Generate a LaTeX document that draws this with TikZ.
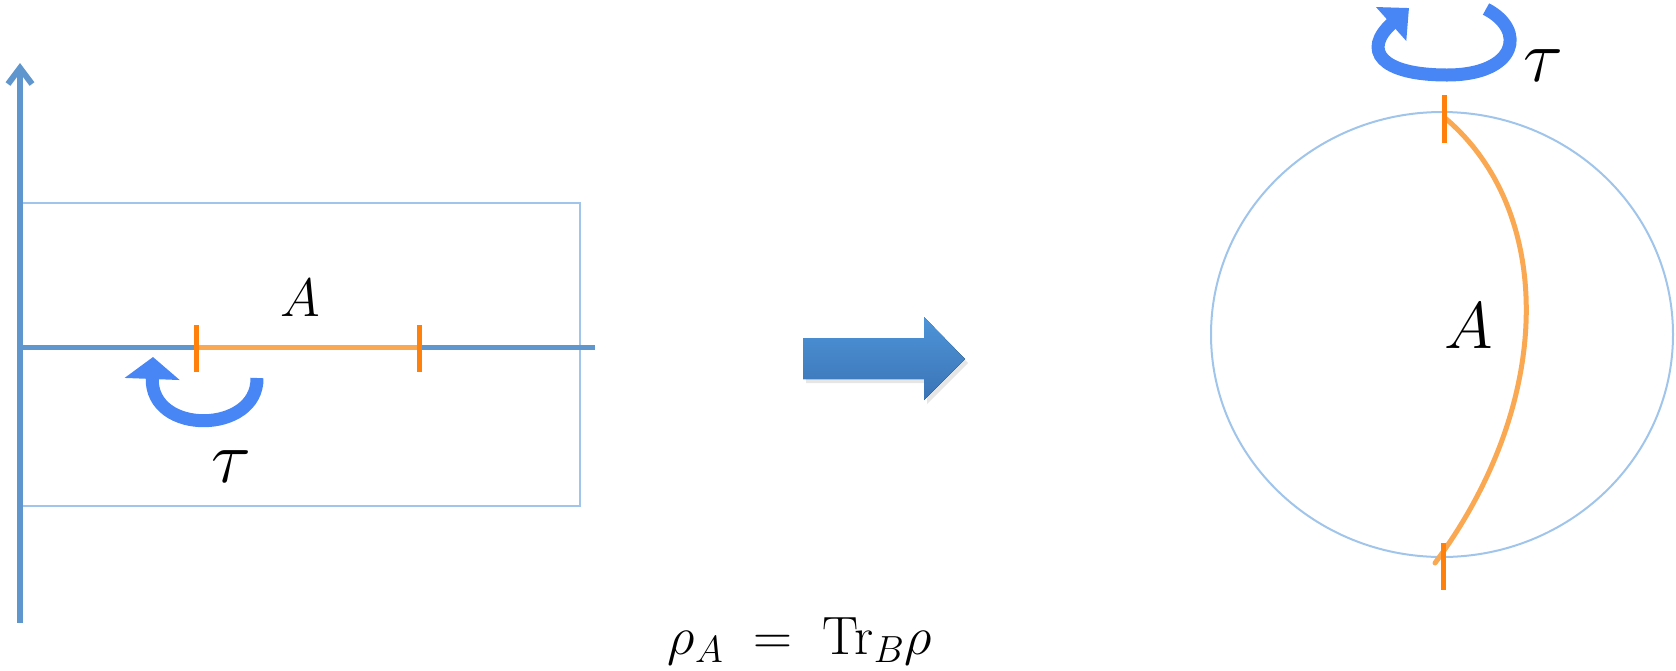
\RequirePackage{fix-cm}
\documentclass[tikz,border=0pt]{standalone}
\usepackage{amsmath,amssymb}
\usepackage{tikz}
\usetikzlibrary{arrows.meta, positioning, calc, shadows}
\usepackage{xcolor}
\definecolor{axisblue}{RGB}{94,150,205}
\definecolor{frameblue}{RGB}{160,196,234}
\definecolor{taublue}{RGB}{72,134,246}
\definecolor{tickorange}{RGB}{255,128,10}
\definecolor{segorange}{RGB}{250,168,82}
\definecolor{maptop}{RGB}{78,148,216}
\definecolor{mapbot}{RGB}{58,116,182}
\tikzstyle{axisline} = [line width=3pt, color=axisblue]
\tikzstyle{twist} = [line width=6.5pt, color=taublue]

\begin{document}
\begin{tikzpicture}[
    x=0.5pt, y=-0.5pt,
    frame/.style={draw=frameblue, line width=1pt},
    tickmark/.style={draw=tickorange, line width=2.5pt},
    region/.style={draw=segorange, line width=2.5pt},
    lab/.style={inner sep=0pt, text=black}
]
    \useasboundingbox (0,0) rectangle (1676,670);

    % Left: strip with time axis
    \coordinate (ybot) at (20,623);
    \coordinate (ytop) at (20,63);
    \coordinate (xbeg) at (20,347);
    \coordinate (xend) at (595,347);
    \draw[frame] (20,203) rectangle (580,506);
    \draw[axisline, -{Straight Barb[length=8pt, width=12pt]}] (ybot) -- (ytop);
    \draw[axisline, line width=2.5pt] (xbeg) -- (xend);

    % Interval A
    \coordinate (al) at (196,347);
    \coordinate (ar) at (419,347);
    \draw[region] (al) -- (ar);
    \draw[tickmark] ($(al)+(0,-22)$) -- ($(al)+(0,25)$);
    \draw[tickmark] ($(ar)+(0,-22)$) -- ($(ar)+(0,25)$);
    \node[lab, font=\fontsize{27}{30}\selectfont] (alab) at (300,298) {$A$};

    % Rotation in the plane
    \coordinate (rs) at (257,378);
    \coordinate (re) at (153,357);
    \draw[twist, -{Triangle[length=11pt, width=27pt]}]
        (rs) .. controls (258,434) and (150,436) .. (re);
    \node[lab, font=\fontsize{37}{40}\selectfont] (tlab) at (231,467) {$\tau$};

    % Map arrow
    \fill[top color=maptop, bottom color=mapbot,
          drop shadow={opacity=0.2, shadow xshift=1.5pt, shadow yshift=-2pt}]
        (803,338) -- (924,338) -- (924,317) -- (965,359) -- (924,400)
        -- (924,379) -- (803,379) -- cycle;

    % Right: disc
    \coordinate (disc) at (1442,334.5);
    \draw[frame] (disc) ellipse [x radius=231, y radius=222.5];
    \coordinate (ptop) at (1445,118);
    \coordinate (pbot) at (1435,563);
    \draw[region, line cap=round] (ptop) .. controls (1554,210) and (1556,400) .. (pbot);
    \draw[tickmark] (1444,95) -- (1444,143);
    \draw[tickmark] (1443,543) -- (1443,590);
    \node[lab, font=\fontsize{33}{36}\selectfont] (alab2) at (1469,326) {$A$};

    % Rotation around the disc
    \coordinate (ts) at (1486,9);
    \coordinate (te) at (1409,8);
    \draw[twist, -{Triangle[length=12pt, width=22pt]}]
        (ts) .. controls (1527,30) and (1517,75) .. (1447,75)
        .. controls (1380,75) and (1362,50) .. (te);
    \node[lab, font=\fontsize{37}{40}\selectfont] (tlab2) at (1543,66) {$\tau$};

    % Reduced density matrix
    \node[lab, font=\fontsize{27}{30}\selectfont] (rho) at (800,641)
        {$\rho_A \mathrel{\;=\;} \mathrm{Tr}_B\rho$};

\end{tikzpicture}
\end{document}
